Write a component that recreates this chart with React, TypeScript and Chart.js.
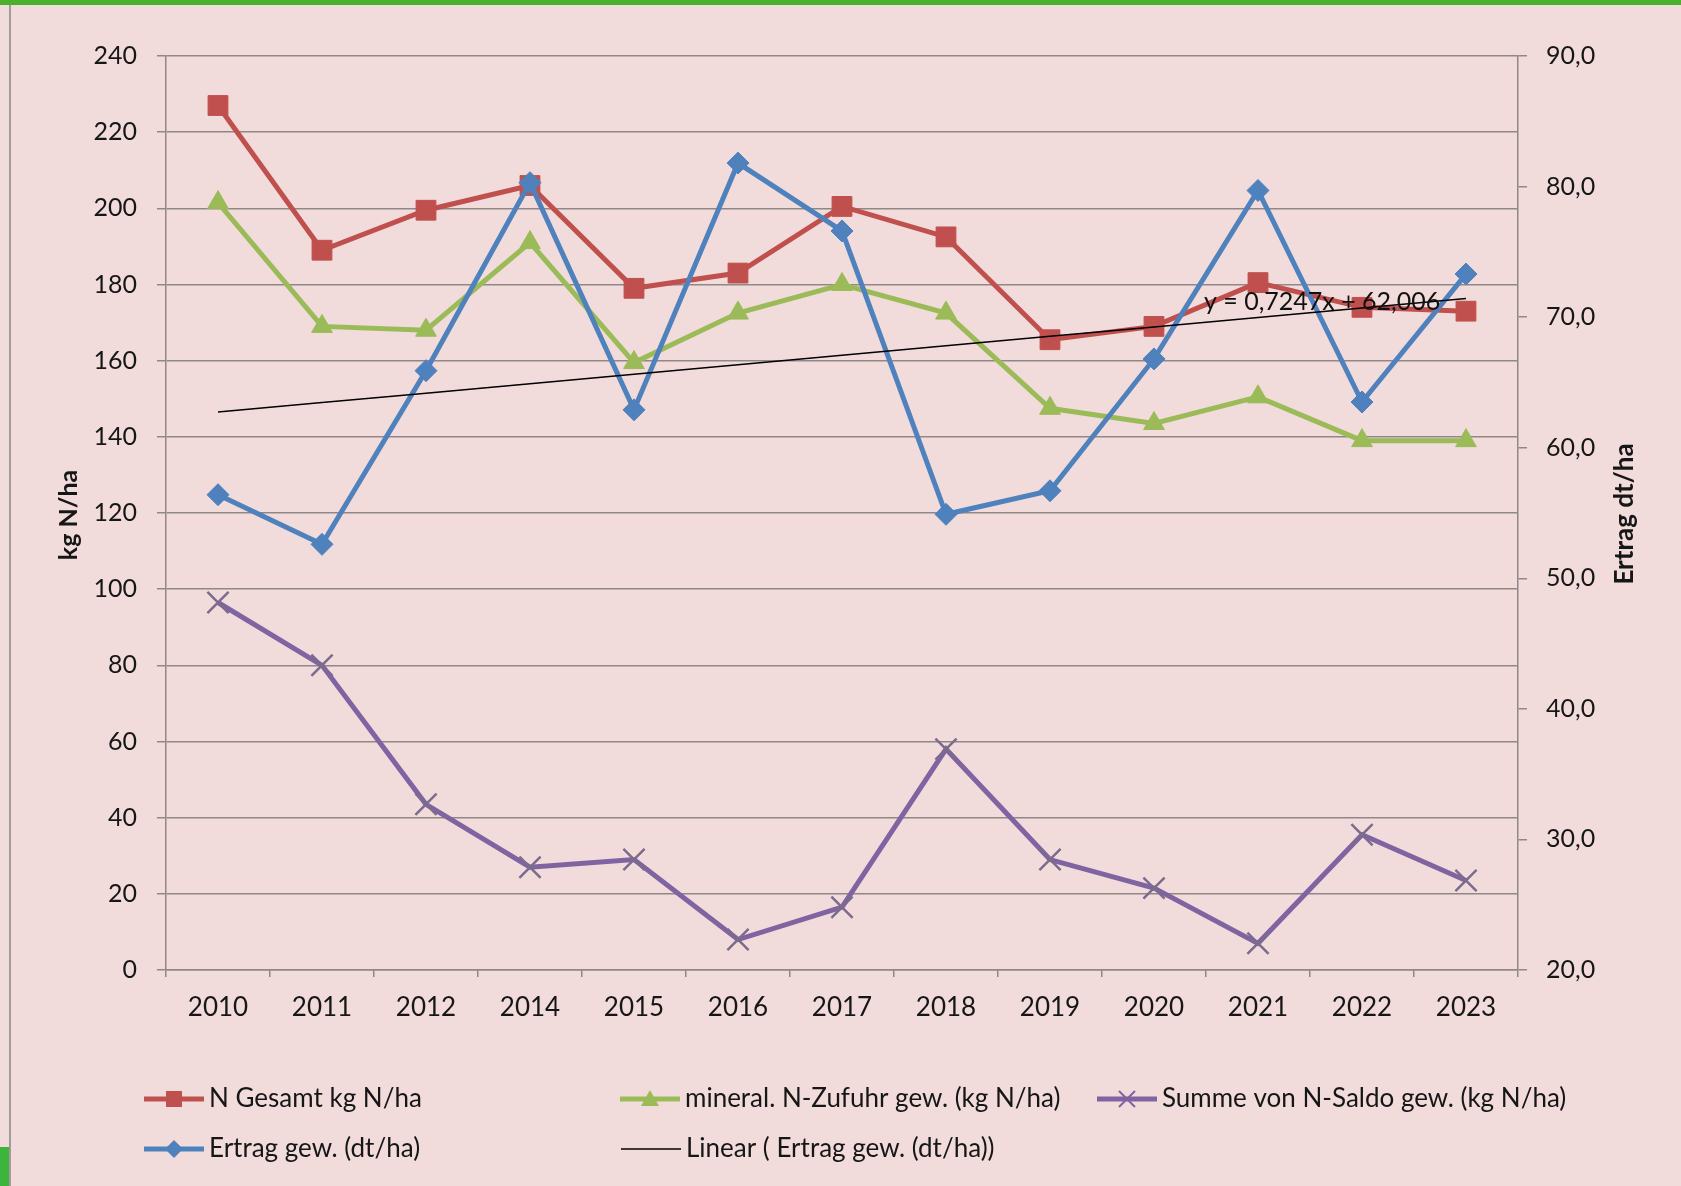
import React, { useEffect, useRef } from 'react';
import { Chart, registerables } from 'chart.js';

Chart.register(...registerables);

const years = ['2010', '2011', '2012', '2014', '2015', '2016', '2017', '2018', '2019', '2020', '2021', '2022', '2023'];
const nGesamt = [227, 189, 199.5, 206, 179, 183, 200.5, 192.5, 165.5, 169, 180.5, 174, 173];
const mineralN = [201.5, 169, 168, 191, 159.5, 172.5, 180, 172.5, 147.5, 143.5, 150.5, 139, 139];
const nSaldo = [96.5, 80, 43.5, 27, 29, 8, 16.5, 58, 29, 21.5, 7, 35.5, 23.5];
const ertrag = [56.4, 52.6, 65.9, 80.3, 62.9, 81.8, 76.6, 54.9, 56.7, 66.8, 79.7, 63.5, 73.3];
const TREND_SLOPE = 0.7247;
const TREND_INTERCEPT = 62.006;
const trendLabel = 'y = 0,7247x + 62,006';

const labelsLegend = [
  'N Gesamt kg N/ha',
  'mineral. N-Zufuhr gew. (kg N/ha)',
  'Summe von N-Saldo gew. (kg N/ha)',
  'Ertrag gew. (dt/ha)',
  'Linear ( Ertrag gew. (dt/ha))',
];
const leftTitle = 'kg N/ha';
const rightTitle = 'Ertrag dt/ha';

const RED = '#C0504D';
const GREEN = '#9BBB59';
const PURPLE = '#8064A2';
const BLUE = '#4F81BD';
const GRID = '#8f8888';
const TEXT = '#161616';
const FONT = 'Lato';

function drawMarker(ctx: CanvasRenderingContext2D, kind: string, x: number, y: number, color: string) {
  ctx.save();
  ctx.fillStyle = color;
  ctx.strokeStyle = color;
  ctx.beginPath();
  if (kind === 'rect') {
    ctx.rect(x - 8, y - 8, 16, 16);
    ctx.fill();
  } else if (kind === 'triangle') {
    ctx.moveTo(x, y - 9);
    ctx.lineTo(x + 9, y + 7);
    ctx.lineTo(x - 9, y + 7);
    ctx.closePath();
    ctx.fill();
  } else if (kind === 'rectRot') {
    ctx.moveTo(x, y - 9);
    ctx.lineTo(x + 9, y);
    ctx.lineTo(x, y + 9);
    ctx.lineTo(x - 9, y);
    ctx.closePath();
    ctx.fill();
  } else if (kind === 'crossRot') {
    ctx.lineWidth = 2;
    ctx.moveTo(x - 8, y - 8);
    ctx.lineTo(x + 8, y + 8);
    ctx.moveTo(x + 8, y - 8);
    ctx.lineTo(x - 8, y + 8);
    ctx.stroke();
  }
  ctx.restore();
}

const extrasPlugin = {
  id: 'extras',
  afterDatasetsDraw(chart: any) {
    const ctx: CanvasRenderingContext2D = chart.ctx;
    ctx.save();
    ctx.font = `25px ${FONT}`;
    ctx.fillStyle = '#111';
    ctx.textBaseline = 'middle';
    ctx.textAlign = 'left';
    ctx.fillText(trendLabel, 1204, 302);
    ctx.restore();
  },
  afterDraw(chart: any) {
    const ctx: CanvasRenderingContext2D = chart.ctx;
    ctx.save();
    ctx.fillStyle = TEXT;
    ctx.textAlign = 'center';
    ctx.textBaseline = 'middle';
    ctx.font = `bold 25px ${FONT}`;
    ctx.save();
    ctx.translate(69, 515);
    ctx.rotate(-Math.PI / 2);
    ctx.fillText(leftTitle, 0, 0);
    ctx.restore();
    ctx.font = `bold 26px ${FONT}`;
    ctx.save();
    ctx.translate(1625, 514);
    ctx.rotate(-Math.PI / 2);
    ctx.fillText(rightTitle, 0, 0);
    ctx.restore();

    const items = [
      { text: labelsLegend[0], color: RED, marker: 'rect', lx: 144, ly: 1099, w: 5 },
      { text: labelsLegend[1], color: GREEN, marker: 'triangle', lx: 620, ly: 1099, w: 5 },
      { text: labelsLegend[2], color: PURPLE, marker: 'crossRot', lx: 1097, ly: 1099, w: 5 },
      { text: labelsLegend[3], color: BLUE, marker: 'rectRot', lx: 144, ly: 1149, w: 5 },
      { text: labelsLegend[4], color: '#000', marker: '', lx: 621, ly: 1149, w: 1.5 },
    ];
    ctx.font = `26px ${FONT}`;
    ctx.textAlign = 'left';
    ctx.textBaseline = 'middle';
    for (const it of items) {
      const len = 60;
      ctx.strokeStyle = it.color;
      ctx.lineWidth = it.w;
      ctx.beginPath();
      ctx.moveTo(it.lx, it.ly);
      ctx.lineTo(it.lx + len, it.ly);
      ctx.stroke();
      if (it.marker) drawMarker(ctx, it.marker, it.lx + len / 2, it.ly, it.color);
      ctx.fillStyle = TEXT;
      ctx.fillText(it.text, it.lx + len + 5, it.ly);
    }
    ctx.restore();
  },
};

export default function App() {
  const canvasRef = useRef<HTMLCanvasElement | null>(null);

  useEffect(() => {
    const canvas = canvasRef.current;
    if (!canvas) return;
    const trend = years.map((_, i) => TREND_INTERCEPT + TREND_SLOPE * (i + 1));
    const tickFont = { family: FONT, size: 25 };
    const chart = new Chart(canvas, {
      type: 'line',
      data: {
        labels: years,
        datasets: [
          {
            label: labelsLegend[4],
            data: trend,
            yAxisID: 'y1',
            borderColor: '#000',
            borderWidth: 1.5,
            pointRadius: 0,
            order: 0,
          },
          {
            label: labelsLegend[3],
            data: ertrag,
            yAxisID: 'y1',
            borderColor: BLUE,
            backgroundColor: BLUE,
            borderWidth: 5,
            pointStyle: 'rectRot',
            pointRadius: 11,
            pointBackgroundColor: BLUE,
            pointBorderColor: BLUE,
            pointBorderWidth: 1,
            order: 1,
          },
          {
            label: labelsLegend[2],
            data: nSaldo,
            yAxisID: 'y',
            borderColor: PURPLE,
            backgroundColor: PURPLE,
            borderWidth: 5,
            pointStyle: 'crossRot',
            pointRadius: 15,
            pointBorderColor: '#7b6b8c',
            pointBorderWidth: 2.5,
            order: 2,
          },
          {
            label: labelsLegend[1],
            data: mineralN,
            yAxisID: 'y',
            borderColor: GREEN,
            backgroundColor: GREEN,
            borderWidth: 5,
            pointStyle: 'triangle',
            pointRadius: 12,
            pointBackgroundColor: GREEN,
            pointBorderColor: GREEN,
            pointBorderWidth: 1,
            order: 3,
          },
          {
            label: labelsLegend[0],
            data: nGesamt,
            yAxisID: 'y',
            borderColor: RED,
            backgroundColor: RED,
            borderWidth: 5,
            pointStyle: 'rect',
            pointRadius: 14,
            pointBackgroundColor: RED,
            pointBorderColor: RED,
            pointBorderWidth: 1,
            order: 4,
          },
        ],
      },
      options: {
        responsive: false,
        animation: false,
        devicePixelRatio: 1,
        layout: { padding: { left: 10, right: 10, top: 56, bottom: 0 } },
        plugins: {
          legend: { display: false },
          tooltip: { enabled: false },
        },
        elements: { line: { tension: 0 } },
        scales: {
          x: {
            type: 'category',
            offset: true,
            grid: {
              offset: true,
              drawOnChartArea: false,
              drawTicks: true,
              tickLength: 7,
              color: GRID,
              lineWidth: 1.5,
            },
            border: { display: true, color: GRID, width: 1.5 },
            ticks: { font: { family: FONT, size: 26 }, color: TEXT, padding: 15, maxRotation: 0, autoSkip: false },
            afterFit: (s: any) => {
              s.height = 216;
            },
          },
          y: {
            position: 'left',
            min: 0,
            max: 240,
            ticks: { stepSize: 20, font: tickFont, color: TEXT, padding: 20 },
            grid: { color: GRID, lineWidth: 1.5, tickLength: 9, drawTicks: true },
            border: { display: true, color: GRID, width: 1.5 },
            afterFit: (s: any) => {
              s.width = 156;
            },
          },
          y1: {
            position: 'right',
            min: 20,
            max: 90,
            ticks: {
              stepSize: 10,
              font: tickFont,
              color: TEXT,
              padding: 19,
              callback: (v: any) => Number(v).toFixed(1).replace('.', ','),
            },
            grid: { drawOnChartArea: false, color: GRID, lineWidth: 1.5, tickLength: 9, drawTicks: true },
            border: { display: true, color: GRID, width: 1.5 },
            afterFit: (s: any) => {
              s.width = 153;
            },
          },
        },
      },
      plugins: [extrasPlugin],
    } as any);
    return () => chart.destroy();
  }, []);

  return (
    <div
      style={{
        position: 'absolute',
        left: 0,
        top: 0,
        width: 1681,
        height: 1186,
        background: '#F2DCDB',
        overflow: 'hidden',
      }}
    >
      <div style={{ position: 'absolute', left: 0, top: 0, width: 1681, height: 5, background: '#4BB12A' }} />
      <div style={{ position: 'absolute', left: 9, top: 5, width: 2, height: 1181, background: '#a39a9a' }} />
      <div style={{ position: 'absolute', left: 0, top: 1147, width: 9, height: 39, background: '#3DB53D' }} />
      <canvas
        ref={canvasRef}
        width={1681}
        height={1186}
        style={{ position: 'absolute', left: 0, top: 0, width: 1681, height: 1186 }}
      />
    </div>
  );
}
